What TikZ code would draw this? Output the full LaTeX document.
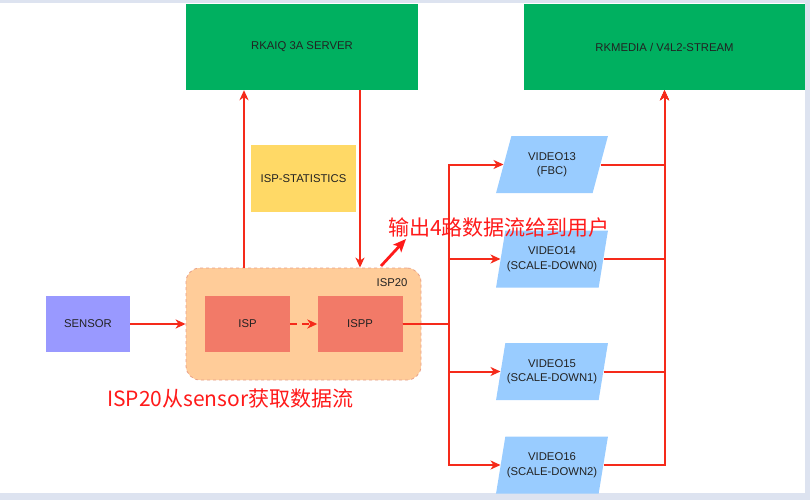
\documentclass[tikz,border=0pt]{standalone}
\usepackage{fontspec}
\setmainfont{Liberation Sans}
\newfontfamily\cjk{Noto Sans CJK SC}
\usetikzlibrary{shapes.geometric,arrows.meta,calc}
\definecolor{bggray}{HTML}{DDE3F0}
\definecolor{boxgreen}{HTML}{00B060}
\definecolor{statyellow}{HTML}{FFD966}
\definecolor{ispfill}{HTML}{FFCC99}
\definecolor{ispborder}{HTML}{E8A088}
\definecolor{ispbox}{HTML}{F27A68}
\definecolor{sensorfill}{HTML}{9999FF}
\definecolor{vidfill}{HTML}{99CCFF}
\definecolor{linered}{HTML}{F52A1A}
\definecolor{notered}{HTML}{FF1A1A}
\definecolor{txt}{HTML}{222222}
\tikzset{
  lbl/.style={font=\fontsize{11.3}{14.5}\selectfont, text=txt, align=center},
  bigbox/.style={lbl, fill=boxgreen, minimum width=232pt, minimum height=86pt, inner sep=0},
  ispblk/.style={lbl, fill=ispbox, minimum width=85pt, minimum height=56pt, inner sep=0},
  vid/.style={lbl, trapezium, trapezium left angle=70, trapezium right angle=110,
    trapezium stretches=true, minimum width=112pt, minimum height=57pt, inner sep=0, fill=vidfill},
  arr/.style={draw=linered, line width=2pt, -{Stealth[length=10pt,width=9pt,inset=3pt]}},
  note/.style={font=\cjk\fontsize{21}{24}\selectfont, text=notered, inner sep=0, anchor=west}
}
\begin{document}
\begin{tikzpicture}[x=1pt,y=-1pt]
\useasboundingbox (0,0) rectangle (810,500);
\fill[bggray] (0,0) rectangle (810,500);
\fill[white] (0,3) rectangle (805,493);

\node[bigbox] (rkaiq) at (302,47) {RKAIQ 3A SERVER};
\node[bigbox, minimum width=281pt] (rkmedia) at (664.5,47) {RKMEDIA / V4L2-STREAM};
\node[lbl, fill=statyellow, minimum width=105pt, minimum height=67pt, inner sep=0] (stat) at (303.5,178.5) {ISP-STATISTICS};

\node[fill=ispfill, draw=ispborder, dashed, line width=0.8pt, rounded corners=14pt,
  minimum width=235pt, minimum height=112pt, inner sep=0] (isp20) at (303.5,324) {};
\node[lbl, anchor=center] (isp20l) at (392,283) {ISP20};
\node[ispblk] (isp) at (247.5,324) {ISP};
\node[ispblk] (ispp) at (360,324) {ISPP};
\node[lbl, fill=sensorfill, minimum width=84pt, minimum height=56pt, inner sep=0] (sensor) at (88,324) {SENSOR};

\node[vid] (v13) at (552,164.5) {VIDEO13\\(FBC)};
\node[vid] (v14) at (552,259) {VIDEO14\\(SCALE-DOWN0)};
\node[vid] (v15) at (552,371.5) {VIDEO15\\(SCALE-DOWN1)};
\node[vid] (v16) at (552,465) {VIDEO16\\(SCALE-DOWN2)};

\coordinate (upx) at (244,0);
\coordinate (downx) at (360,0);
\coordinate (splitx) at (449,0);

\draw[arr] (sensor.east) -- (isp20.west);
\draw[arr, dash pattern=on 7pt off 5pt] (isp.east) -- (ispp.west);
\draw[arr] (upx |- isp20.north) -- (upx |- rkaiq.south);
\draw[arr] (downx |- rkaiq.south) -- (downx |- isp20.north);

\foreach \v in {v13,v14,v15,v16}{
  \draw[arr] (ispp.east) -- (splitx |- ispp.east) |- (\v.west);
  \draw[arr] (\v.east) -| (rkmedia.south);
}

\node[note] (n1) at (388,228) {输出4路数据流给到用户};
\node[note] (n2) at (107,399) {ISP20从sensor获取数据流};
\coordinate (nt) at (381,266);
\draw[draw=notered, line width=2.8pt, -{Stealth[length=13pt,width=11pt,inset=3pt]}] (nt) -- ($(n1.south west)+(18,1)$);
\end{tikzpicture}
\end{document}
